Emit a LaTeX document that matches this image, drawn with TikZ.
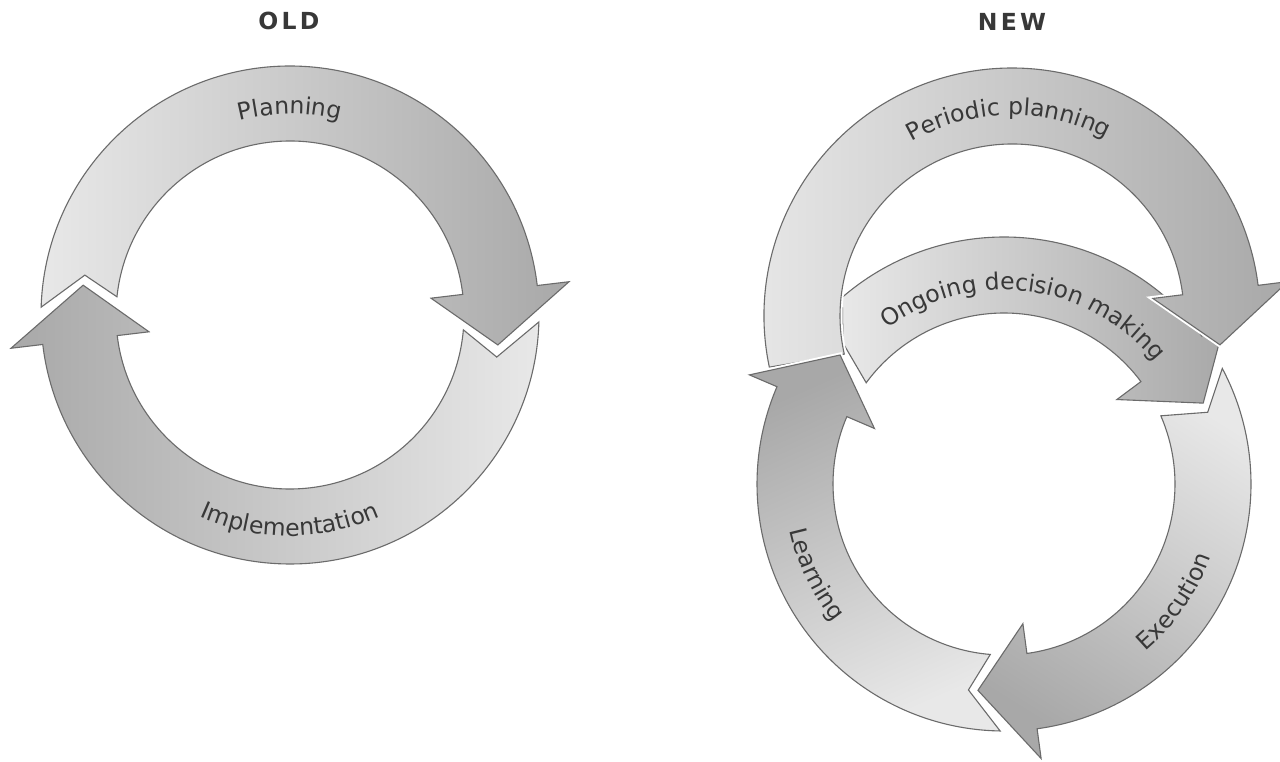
\documentclass[tikz,border=0pt]{standalone}
\usepackage{fontspec}
\setmainfont{DejaVu Sans}
\definecolor{arclight}{gray}{0.91}
\definecolor{arcdark}{gray}{0.66}
\definecolor{arcline}{gray}{0.42}
\definecolor{labelgray}{gray}{0.22}
\usetikzlibrary{decorations.text}
\newcommand{\arcfont}{\fontsize{23.5}{24}\selectfont}
% #1 options, #2/#3 tail angles (outer/inner), #4 tail point, #5 head base angle, #6 tip
\newcommand{\bentarrow}[6]{%
  \pgfmathsetmacro{\rwo}{\rout+\wing}%
  \pgfmathsetmacro{\rwi}{\rin-\wing}%
  \path[cyclearrow, #1] (#2:\rout) arc[start angle=#2, end angle=#5, radius=\rout pt]
    -- (#5:\rwo) -- (#6) -- (#5:\rwi) -- (#5:\rin)
    arc[start angle=#5, end angle=#3, radius=\rin pt] -- (#4) -- cycle;}
\tikzset{
  cyclearrow/.style={draw=arcline, line width=1.1pt, top color=arclight, bottom color=arcdark,
    preaction={draw=white, line width=5pt}},
  arctext/.style={decorate, decoration={text along path, text align=center,
    text color=labelgray, text={|\arcfont|#1}}},
  heading/.style={font=\fontsize{23.5}{25}\selectfont\bfseries\addfontfeatures{LetterSpace=14},
    text=labelgray}
}
\begin{document}
\begin{tikzpicture}[x=1pt, y=1pt]
  \useasboundingbox (0,0) rectangle (1280,761);
  \node[heading] (oldtitle) at (289,740) {OLD};
  \node[heading] (newtitle) at (1012,739) {NEW};

  % old cycle
  \begin{scope}[shift={(290,446)}]
    \def\rin{174}\def\rout{249}\def\wing{32}
    \bentarrow{shading angle=90}{178.2}{174}{169:209}{6.8}{-8.2:210}
    \bentarrow{shading angle=-90}{-1.6}{-4.9}{-11.5:211}{-173.2}{-188.2:209}
    \path[arctext=Planning] (150:201) arc[start angle=150, end angle=30, radius=201pt];
    \path[arctext=Implementation] (200:221) arc[start angle=200, end angle=340, radius=221pt];
  \end{scope}

  % new cycle
  \begin{scope}[shift={(1004,277)}]
    \def\rin{171}\def\rout{247}\def\wing{30}
    \bentarrow{shading angle=-32}{27.9}{23.5}{19.4:216}{-82.3}{-97.2:208}
    \bentarrow{shading angle=90}{130.9}{143.7}{138.8:214}{36.8}{22.1:215}
  \end{scope}
  \begin{scope}[shift={(1012,445)}]
    \def\rin{172}\def\rout{248}\def\wing{30}
    \bentarrow{shading angle=90}{191.9}{192.8}{192.3:212}{7.1}{-7.9:210}
    \path[arctext=Periodic planning] (151:201) arc[start angle=151, end angle=31, radius=201pt];
  \end{scope}
  \begin{scope}[shift={(1004,277)}]
    \def\rin{171}\def\rout{247}\def\wing{30}
    \bentarrow{shading angle=-156}{269.1}{265.4}{260.2:209}{156.8}{141.8:208.6}
    \path[arctext=Ongoing decision making] (148:194) arc[start angle=148, end angle=18, radius=194pt];
    \path[arctext=Execution] (-74.5:219) arc[start angle=-74.5, end angle=5.5, radius=219pt];
    \path[arctext=Learning] (165.6:219) arc[start angle=165.6, end angle=245.6, radius=219pt];
  \end{scope}
\end{tikzpicture}
\end{document}
